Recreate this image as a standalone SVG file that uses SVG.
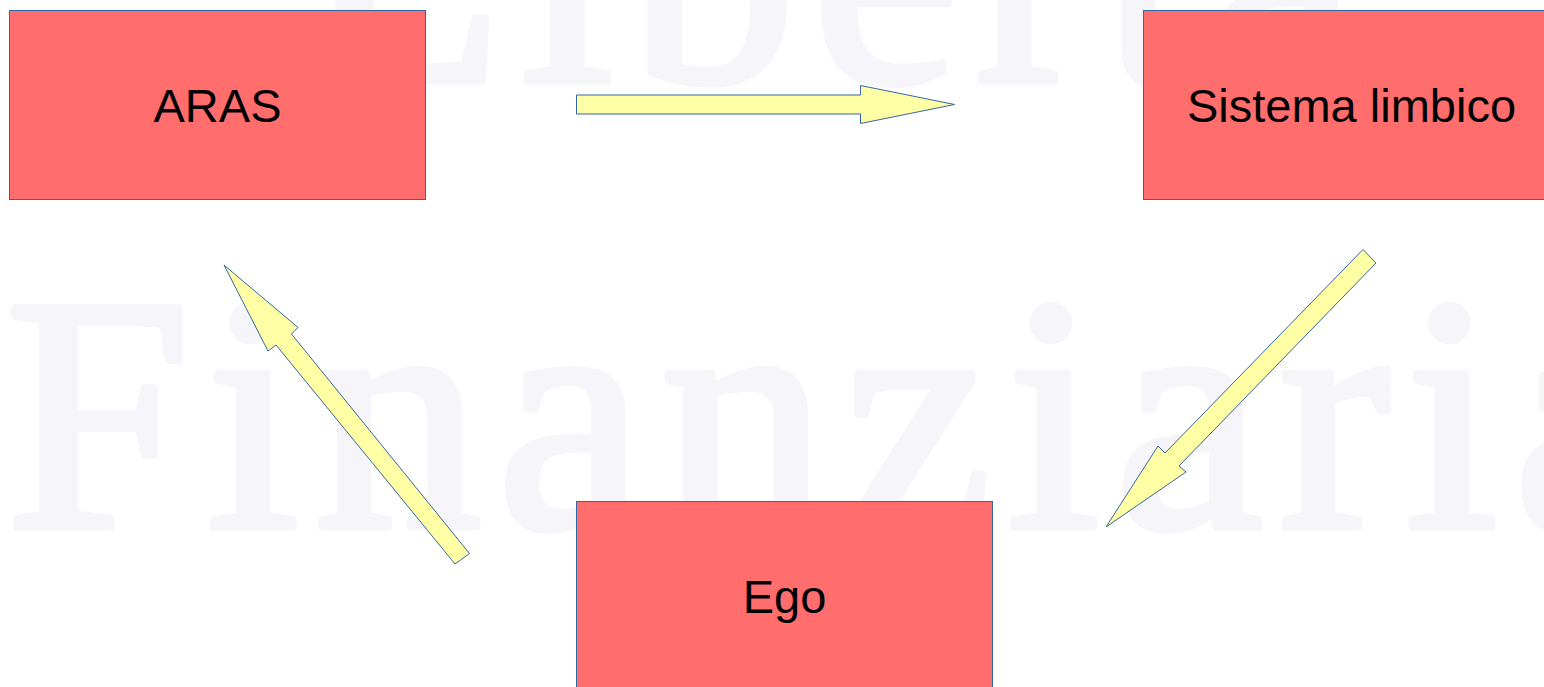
<svg xmlns="http://www.w3.org/2000/svg" width="1544" height="687" viewBox="0 0 1544 687">
  <style>
    .wm { font-family: "Liberation Serif", "Times New Roman", serif; font-size: 335px; letter-spacing: 15px; fill: #f5f5fa; stroke: #f5f5fa; stroke-width: 7; stroke-linejoin: round; }
    .box { fill: #ff6d6d; stroke: #3465a4; stroke-width: 1; }
    .lbl { font-family: "Liberation Sans", Arial, sans-serif; font-size: 47px; fill: #000000; text-anchor: middle; }
    .arrow { fill: #ffffa6; stroke: #3465a4; stroke-width: 1; stroke-linejoin: miter; }
  </style>
  <rect x="0" y="0" width="1544" height="687" fill="#ffffff"/>
  <g id="watermark">
    <text class="wm" x="301" y="81">Libertà</text>
    <text class="wm" x="5" y="527">Finanziaria</text>
  </g>
  <g id="connectors">
    <polygon class="arrow" points="576.5,95 860.5,95 860.5,85.5 954.5,104.5 860.5,123.5 860.5,114 576.5,114"/>
    <polygon class="arrow" points="1106,527 1158,446 1165,453 1363,249.5 1376,263 1179,466 1186,472"/>
    <polygon class="arrow" points="224,265 298,327.5 291.5,334 469.5,553.5 455,564 276,345 268,351"/>
  </g>
  <g id="node-aras">
    <rect class="box" x="9.5" y="10.5" width="416" height="189"/>
    <text class="lbl" x="217.5" y="122">ARAS</text>
  </g>
  <g id="node-sistema-limbico">
    <rect class="box" x="1143.5" y="10.5" width="416" height="189"/>
    <text class="lbl" x="1351.5" y="122">Sistema limbico</text>
  </g>
  <g id="node-ego">
    <rect class="box" x="576.5" y="501.5" width="416" height="189"/>
    <text class="lbl" x="784.5" y="613">Ego</text>
  </g>
</svg>
